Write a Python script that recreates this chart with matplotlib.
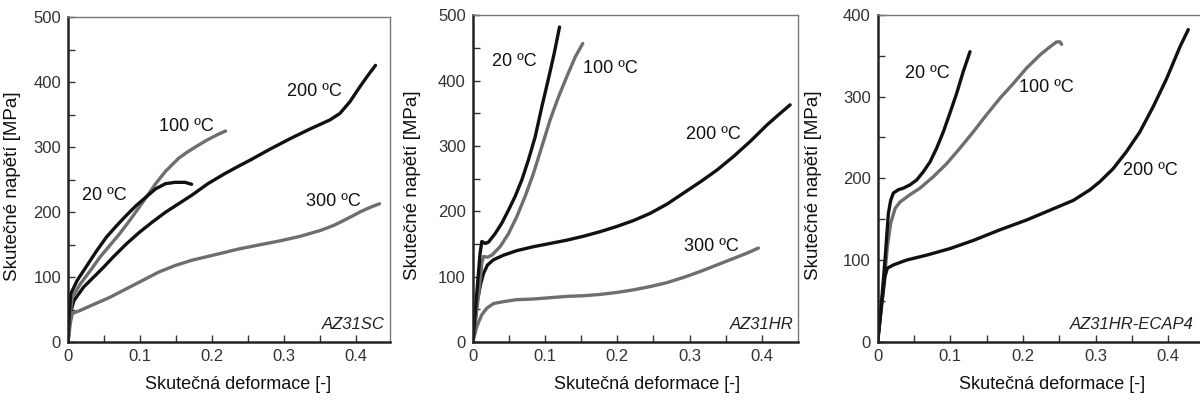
import numpy as np
import matplotlib.pyplot as plt

plt.rcParams['font.family'] = ['Liberation Sans', 'DejaVu Sans']

# AZ31SC
sc_20_x = [0, 0.0015, 0.0036, 0.0127, 0.0264, 0.04, 0.0536, 0.0673, 0.0809, 0.0945, 0.108, 0.1218,
           0.1355, 0.149, 0.1627, 0.1718]
sc_20_y = [0, 40, 74, 95, 118, 141, 162, 179, 195, 210, 223, 236, 244, 246, 246, 243]
sc_100_x = [0, 0.002, 0.0059, 0.0173, 0.0309, 0.0445, 0.0582, 0.0718, 0.0855, 0.0991, 0.1105, 0.1218,
            0.1355, 0.1536, 0.165, 0.1764, 0.193, 0.207, 0.219]
sc_100_y = [0, 35, 69, 90, 110, 131, 149, 167, 187, 208, 226, 244, 263, 283, 292, 300, 311, 319, 325]
sc_200_x = [0, 0.0033, 0.0082, 0.0218, 0.0355, 0.0491, 0.0627, 0.0809, 0.0991, 0.1173, 0.1355, 0.1536,
            0.1718, 0.1945, 0.2173, 0.2355, 0.2528, 0.2806, 0.3083, 0.3361, 0.3639, 0.3778, 0.3917,
            0.4056, 0.4171, 0.4273]
sc_200_y = [0, 45, 64, 85, 100, 115, 131, 151, 169, 185, 200, 213, 226, 244, 259, 270, 280, 297, 313,
            328, 342, 352, 370, 393, 411, 426]
sc_300_x = [0, 0.0033, 0.0059, 0.0173, 0.0355, 0.0582, 0.0809, 0.1036, 0.1264, 0.149, 0.1718, 0.1945,
            0.2173, 0.2355, 0.267, 0.295, 0.323, 0.351, 0.37, 0.388, 0.407, 0.421, 0.433]
sc_300_y = [0, 30, 44, 49, 58, 69, 82, 95, 108, 118, 126, 132, 138, 143, 150, 156, 163, 172, 180, 190,
            201, 208, 213]

# AZ31HR
hr_20_x = [0, 0.0055, 0.0101, 0.0125, 0.0171, 0.0217, 0.0309, 0.0401, 0.0494, 0.0586, 0.0678, 0.077,
           0.0863, 0.0955, 0.1047, 0.1125, 0.12]
hr_20_y = [0, 75, 136, 154, 151, 153, 166, 182, 202, 223, 248, 279, 314, 360, 403, 441, 482]
hr_100_x = [0, 0.0078, 0.0125, 0.0148, 0.0203, 0.0263, 0.0378, 0.0494, 0.0609, 0.0724, 0.0839, 0.0955,
            0.107, 0.1185, 0.13, 0.1416, 0.1522]
hr_100_y = [0, 70, 121, 131, 130, 133, 146, 166, 192, 223, 258, 299, 340, 375, 406, 436, 457]
hr_200_x = [0, 0.0065, 0.0111, 0.0148, 0.0203, 0.0286, 0.0424, 0.0609, 0.0839, 0.107, 0.1301, 0.1531,
            0.1762, 0.1993, 0.2223, 0.2454, 0.2685, 0.2915, 0.3146, 0.3376, 0.3607, 0.3838, 0.4068,
            0.4253, 0.4391]
hr_200_y = [0, 65, 90, 105, 118, 126, 133, 140, 146, 151, 156, 162, 169, 177, 186, 197, 211, 228, 245,
            263, 284, 307, 332, 350, 363]
hr_300_x = [0, 0.0055, 0.0125, 0.0194, 0.0286, 0.0424, 0.0609, 0.0839, 0.107, 0.1301, 0.1531, 0.1762,
            0.1993, 0.2223, 0.2454, 0.2685, 0.2915, 0.3146, 0.3376, 0.3607, 0.3791, 0.3953]
hr_300_y = [0, 24, 42, 52, 59, 62, 65, 66, 68, 70, 71, 73, 76, 80, 85, 91, 99, 108, 118, 128, 136, 144]

# AZ31HR-ECAP4
ec_20_x = [0, 0.0055, 0.0101, 0.0147, 0.0179, 0.0216, 0.0284, 0.0353, 0.0445, 0.0537, 0.0628, 0.072,
           0.0812, 0.0904, 0.0995, 0.1087, 0.1179, 0.1271]
ec_20_y = [0, 51, 100, 157, 173, 182, 186, 188, 192, 198, 208, 220, 237, 257, 280, 304, 331, 355]
ec_100_x = [0, 0.0078, 0.0133, 0.0179, 0.0239, 0.0307, 0.0445, 0.0583, 0.0766, 0.095, 0.1133, 0.1317,
            0.15, 0.1683, 0.1867, 0.205, 0.2234, 0.2372, 0.2463, 0.2509, 0.2532]
ec_100_y = [0, 63, 116, 145, 163, 171, 180, 188, 202, 218, 237, 257, 278, 298, 316, 335, 351, 361,
            367, 367, 364]
ec_200_x = [0, 0.0055, 0.0101, 0.0133, 0.0216, 0.0399, 0.0674, 0.0995, 0.1317, 0.1683, 0.205, 0.2372,
            0.2693, 0.2922, 0.306, 0.3243, 0.3427, 0.361, 0.3794, 0.3977, 0.4161, 0.4275]
ec_200_y = [0, 47, 80, 90, 94, 100, 106, 114, 124, 137, 149, 161, 173, 186, 196, 212, 233, 257, 288,
            322, 361, 382]

BLACK = '#111111'
GREY = '#6e6e6e'

panels = [
    dict(rect=[0.0567, 0.151, 0.268, 0.806], xmax=0.447, ymax=500, name='AZ31SC',
         curves=[(sc_200_x, sc_200_y, BLACK), (sc_300_x, sc_300_y, GREY),
                 (sc_100_x, sc_100_y, GREY), (sc_20_x, sc_20_y, BLACK)],
         labels=[(0.019, 226, '20 ºC'), (0.126, 332, '100 ºC'),
                 (0.305, 386, '200 ºC'), (0.331, 216, '300 ºC')],
         ylab_x=-0.146, xlab_x=0.528),
    dict(rect=[0.394, 0.151, 0.271, 0.811], xmax=0.45, ymax=500, name='AZ31HR',
         curves=[(hr_300_x, hr_300_y, GREY), (hr_200_x, hr_200_y, BLACK),
                 (hr_100_x, hr_100_y, GREY), (hr_20_x, hr_20_y, BLACK)],
         labels=[(0.026, 429, '20 ºC'), (0.152, 418, '100 ºC'),
                 (0.295, 317, '200 ºC'), (0.292, 146, '300 ºC')],
         ylab_x=-0.159, xlab_x=0.536),
    dict(rect=[0.7314, 0.152, 0.2676, 0.811], xmax=0.442, ymax=400, name='AZ31HR-ECAP4',
         curves=[(ec_100_x, ec_100_y, GREY), (ec_200_x, ec_200_y, BLACK),
                 (ec_20_x, ec_20_y, BLACK)],
         labels=[(0.038, 328, '20 ºC'), (0.195, 311, '100 ºC'),
                 (0.338, 210, '200 ºC')],
         ylab_x=-0.173, xlab_x=0.543),
]

fig = plt.figure(figsize=(12, 4.03), dpi=100)

for p in panels:
    ax = fig.add_axes(p['rect'])
    for x, y, c in p['curves']:
        ax.plot(x, y, color=c, lw=2.4, solid_capstyle='round', solid_joinstyle='round')
    for x, y, t in p['labels']:
        ax.text(x, y, t, fontsize=13, ha='left', va='center', color='#111111')
    ax.text(0.985, 0.03, p['name'], transform=ax.transAxes, fontsize=12,
            style='italic', ha='right', va='bottom', color='#222222')

    ax.set_xlim(0, p['xmax'])
    ax.set_ylim(0, p['ymax'])
    ax.set_xticks([0, 0.1, 0.2, 0.3, 0.4])
    ax.set_xticklabels(['0', '0.1', '0.2', '0.3', '0.4'])
    ax.set_xticks(np.arange(0.05, p['xmax'], 0.1), minor=True)
    ax.set_yticks(np.arange(0, p['ymax'] + 1, 100))
    ax.set_yticks(np.arange(50, p['ymax'], 100), minor=True)
    ax.tick_params(which='both', direction='in', labelsize=12, labelcolor='#333333',
                   width=1.0, color='#333333')
    ax.tick_params(which='major', length=5, pad=5)
    ax.tick_params(which='minor', length=5)

    ax.spines['left'].set_linewidth(1.8)
    ax.spines['bottom'].set_linewidth(1.8)
    ax.spines['left'].set_color('#222222')
    ax.spines['bottom'].set_color('#222222')
    for s in ['top', 'right']:
        ax.spines[s].set_linewidth(1.0)
        ax.spines[s].set_color('#777777')
    if p['name'] == 'AZ31HR-ECAP4':
        ax.spines['right'].set_visible(False)

    ax.set_xlabel('Skutečná deformace [-]', fontsize=13, color='#111111')
    ax.set_ylabel('Skutečné napětí [MPa]', fontsize=13.5, color='#111111')
    ax.xaxis.set_label_coords(p['xlab_x'], -0.105)
    ax.yaxis.set_label_coords(p['ylab_x'], 0.48)

fig.savefig('out.png', dpi=100)
